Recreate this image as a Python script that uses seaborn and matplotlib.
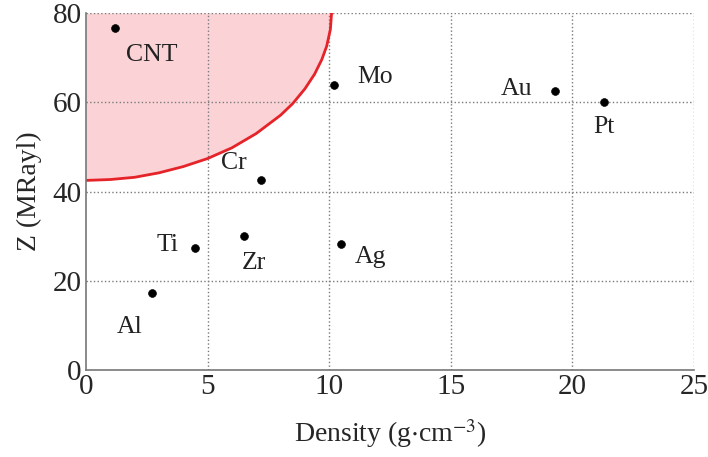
import numpy as np
import pandas as pd
import seaborn as sb
from matplotlib import pyplot as plt

# materials: density (g/cm3) vs acoustic impedance Z (MRayl)
materials = ['CNT', 'Mo', 'Cr', 'Au', 'Pt', 'Ti', 'Zr', 'Ag', 'Al']
density = [1.2, 10.2, 7.2, 19.3, 21.3, 4.5, 6.5, 10.5, 2.7]
impedance = [76.7, 63.8, 42.5, 62.6, 60.0, 27.3, 30.0, 28.2, 17.2]

# where each label sits
label_x = [2.7, 11.9, 6.1, 17.7, 21.3, 3.35, 6.9, 11.7, 1.8]
label_y = [70.5, 65.6, 46.3, 62.9, 54.4, 28.0, 23.9, 25.3, 9.7]

# red boundary of the shaded region
curve_x = [0, 1, 2, 3, 4, 5, 6, 7, 8, 8.5, 9, 9.4, 9.7, 9.9, 10.05, 10.1]
curve_y = [42.5, 42.7, 43.2, 44.2, 45.6, 47.4, 49.8, 53.0, 57.1, 59.7, 63.0,
           66.3, 69.6, 72.6, 76.3, 80.0]

xticks = [0, 5, 10, 15, 20, 25]
yticks = [0, 20, 40, 60, 80]

sb.set_style('white')
plt.rcParams['font.family'] = ['Liberation Serif', 'DejaVu Serif']
plt.rcParams['mathtext.fontset'] = 'stix'

df = pd.DataFrame({'material': materials, 'density': density, 'Z': impedance})

fig = plt.figure(figsize=(7.08, 4.57), dpi=100)
ax = fig.add_axes([0.1215, 0.19, 0.8585, 0.7816])

ax.fill_between(curve_x, curve_y, 80, color='#fbd3d6', zorder=0.5, linewidth=0)
ax.plot(curve_x, curve_y, color='#e52329', linewidth=2, zorder=3)

# dotted grid drawn by hand so it sits on top of the pink area
grid_kw = dict(linestyle=':', color='#7a7a7a', linewidth=1, zorder=2)
for t in xticks[1:]:
    ax.axvline(t, **grid_kw)
for t in yticks[1:]:
    ax.axhline(t, **grid_kw)

sb.scatterplot(data=df, x='density', y='Z', color='black', s=32,
               edgecolor='black', zorder=4, ax=ax)

for name, lx, ly in zip(materials, label_x, label_y):
    ax.text(lx, ly, name, ha='center', va='center', fontsize=18.5, color='#222222')

ax.set_xlim(0, 25)
ax.set_ylim(0, 80)
ax.set_xticks(xticks)
ax.set_yticks(yticks)
ax.grid(False)
for side in ['top', 'right']:
    ax.spines[side].set_visible(False)
for side in ['left', 'bottom']:
    ax.spines[side].set_color('#777777')
    ax.spines[side].set_linewidth(1.2)
    ax.spines[side].set_zorder(5)
ax.tick_params(length=0, labelsize=21, pad=3)

ax.set_xlabel('Density (g$\\cdot$cm$^{-3}$)', fontsize=20, labelpad=12)
ax.set_ylabel('Z (MRayl)', fontsize=20, labelpad=8)

plt.savefig('out.png', dpi=100)
